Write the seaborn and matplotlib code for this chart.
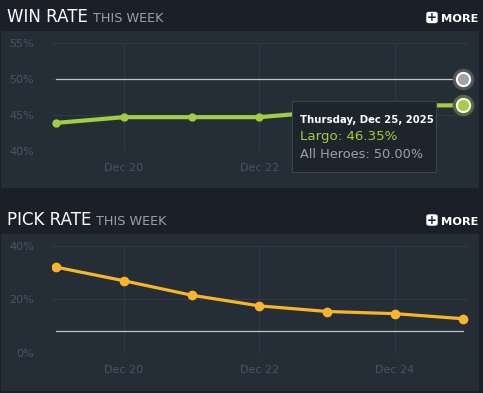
import pandas as pd
import matplotlib
matplotlib.use("Agg")
import matplotlib.pyplot as plt
import matplotlib.dates as mdates
from matplotlib.patches import Rectangle, FancyBboxPatch
import seaborn as sns

# Data
days = pd.date_range("2025-12-19", "2025-12-25", freq="D")
win_rate = [43.9, 44.7, 44.7, 44.7, 45.5, 46.3, 46.35]
all_win = [50.0] * 7
pick_rate = [32.0, 26.9, 21.5, 17.5, 15.4, 14.6, 12.7]
all_pick = [8.0] * 7
win_ticks = [40, 45, 50, 55]
pick_ticks = [0, 20, 40]
tick_days = days[1::2]
hero = "Largo"

BG = "#1b2028"
PANEL = "#252d37"
GRID = "#2f3843"
TICK = "#4b5461"
GREEN = "#a2cd44"
ORANGE = "#f9b52a"
GRAY = "#c4c4c4"

sns.set_theme(style="dark")
plt.rcParams["font.family"] = ["DejaVu Sans"]

W, H = 483, 393
fig = plt.figure(figsize=(W / 100, H / 100), dpi=100)
fig.patch.set_facecolor(BG)


def fx(x):
    return x / W


def fy(y):
    return 1 - y / H


def panel(y0, y1):
    fig.add_artist(Rectangle((fx(1), fy(y1)), fx(478), (y1 - y0) / H, linewidth=0,
                             transform=fig.transFigure, color=PANEL, zorder=-10))


def header(y, title):
    t = fig.text(fx(7), fy(y), title, color="white", fontsize=12,
                 va="baseline", ha="left")
    fig.canvas.draw()
    bb = t.get_window_extent()
    fig.text(bb.x1 / W + fx(5), fy(y), "THIS WEEK", color="#9aa1a9",
             fontsize=9.2, va="baseline", ha="left")
    fig.add_artist(FancyBboxPatch((fx(427), fy(y)), fx(10), 10 / H,
                                  boxstyle="round,pad=0,rounding_size=0.004",
                                  transform=fig.transFigure, color="white", zorder=2))
    fig.text(fx(432), fy(y - 5), "+", color=BG, fontsize=8.5, fontweight="bold",
             ha="center", va="center", zorder=3)
    fig.text(fx(478), fy(y), "MORE", color="white", fontsize=8.2,
             fontweight="bold", ha="right", va="baseline")


def style_axes(ax, ylim, yticks):
    ax.set_facecolor("none")
    for s in ax.spines.values():
        s.set_visible(False)
    ax.set_ylim(*ylim)
    ax.set_yticks(yticks)
    ax.set_yticklabels([f"{v}%" for v in yticks])
    ax.set_xticks(tick_days)
    ax.xaxis.set_major_formatter(mdates.DateFormatter("%b %d"))
    ax.set_xlim(days[0] - pd.Timedelta(hours=1.4), days[-1] + pd.Timedelta(hours=1.8))
    ax.grid(True, color=GRID, linewidth=0.9)
    ax.tick_params(colors=TICK, labelsize=8, length=0, pad=9)
    ax.tick_params(axis="y", pad=13)
    ax.set_xlabel("")
    ax.set_ylabel("")


# ---- Win rate panel
panel(31, 188)
header(22.5, "WIN RATE")
ax1 = fig.add_axes([fx(52), fy(151), fx(416), 108 / H])
df_win = pd.DataFrame({"day": days, "win": win_rate, "all": all_win})
sns.lineplot(data=df_win, x="day", y="all", ax=ax1, color=GRAY, linewidth=0.9)
sns.lineplot(data=df_win, x="day", y="win", ax=ax1, color=GREEN, linewidth=3,
             marker="o", markersize=6, markeredgewidth=0)
style_axes(ax1, (40, 55), win_ticks)
# hover markers on the last day
ax1.plot(days[-1], all_win[-1], "o", ms=15.5, color="#50575f", mew=0, clip_on=False, zorder=5)
ax1.plot(days[-1], all_win[-1], "o", ms=9.5, color="#a3a3a3", mec="white", mew=1.5,
         clip_on=False, zorder=6)
ax1.plot(days[-1], win_rate[-1], "o", ms=15.5, color="#56693a", mew=0, clip_on=False, zorder=5)
ax1.plot(days[-1], win_rate[-1], "o", ms=9.5, color=GREEN, mec="white", mew=1.5,
         clip_on=False, zorder=6)

# tooltip
fig.add_artist(Rectangle((fx(292), fy(172)), fx(144), 71 / H, transform=fig.transFigure,
                         facecolor="#1d242c", edgecolor="#3b434d", linewidth=0.8, zorder=8))
fig.text(fx(300), fy(123), days[-1].strftime("%A, %b %d, %Y"), color="white",
         fontsize=7.3, fontweight="bold", zorder=9)
fig.text(fx(300), fy(140), f"{hero}: {win_rate[-1]:.2f}%", color=GREEN, fontsize=9.6, zorder=9)
fig.text(fx(300), fy(158), f"All Heroes: {all_win[-1]:.2f}%", color="#9aa1a9",
         fontsize=9.3, zorder=9)

# ---- Pick rate panel
panel(234, 391)
header(225, "PICK RATE")
ax2 = fig.add_axes([fx(52), fy(352.7), fx(416), 107 / H])
df_pick = pd.DataFrame({"day": days, "pick": pick_rate, "all": all_pick})
sns.lineplot(data=df_pick, x="day", y="all", ax=ax2, color=GRAY, linewidth=0.9)
sns.lineplot(data=df_pick, x="day", y="pick", ax=ax2, color=ORANGE, linewidth=2.3,
             marker="o", markersize=7, markeredgewidth=0)
style_axes(ax2, (0, 40), pick_ticks)

fig.savefig("out.png", dpi=100, facecolor=BG)
